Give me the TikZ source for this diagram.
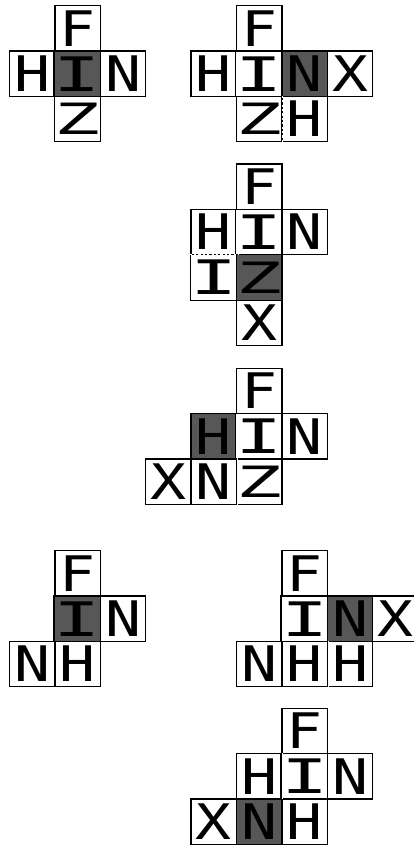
\documentclass[tikz,border=0pt]{standalone}
\usepackage{fontspec}
\setmonofont{DejaVu Sans Mono}
\newcommand{\cellletter}[1]{\scalebox{1.22}[1]{#1}}
\newcommand{\cellI}{\scalebox{1.6}[0.97]{I}}
\newcommand{\cellZ}{\scalebox{1.55}[0.88]{Z}}
\begin{document}
\begin{tikzpicture}[x=1pt,y=-1pt,
  cell/.style={draw=black,line width=1.3pt,fill=white,minimum size=45.4pt,inner sep=0pt,
    font=\ttfamily\fontsize{49}{49}\selectfont},
  shaded/.style={cell,fill=black!66},
  seam/.style={draw=white,line width=0.8pt,dash pattern=on 2.2pt off 2.2pt}]
\useasboundingbox (0,0) rectangle (414,846);
\clip (0,0) rectangle (414,846);
% column centres
\def\mA{32.2}\def\mB{77.6}\def\mC{123}\def\mD{168.4}\def\mE{213.8}
\def\mF{259.2}\def\mG{304.6}\def\mH{350}\def\mI{395.4}
% panel 1
\node[cell] (a1) at (\mB,28.3) {\cellletter{F}};
\node[cell] (a2) at (\mA,73.7) {\cellletter{H}};
\node[shaded] (a3) at (\mB,73.7) {\cellI};
\node[cell] (a4) at (\mC,73.7) {\cellletter{N}};
\node[cell] (a5) at (\mB,119.1) {\cellZ};
% panel 2
\node[cell] (b1) at (\mF,28.3) {\cellletter{F}};
\node[cell] (b2) at (\mE,73.7) {\cellletter{H}};
\node[cell] (b3) at (\mF,73.7) {\cellI};
\node[shaded] (b4) at (\mG,73.7) {\cellletter{N}};
\node[cell] (b5) at (\mH,73.7) {\cellletter{X}};
\node[cell] (b6) at (\mF,119.1) {\cellZ};
\node[cell] (b7) at (\mG,119.1) {\cellletter{H}};
\draw[seam] (b6.north east) -- (b6.south east);
% panel 3
\node[cell] (c1) at (\mF,186.7) {\cellletter{F}};
\node[cell] (c2) at (\mE,232.1) {\cellletter{H}};
\node[cell] (c3) at (\mF,232.1) {\cellI};
\node[cell] (c4) at (\mG,232.1) {\cellletter{N}};
\node[cell] (c5) at (\mE,277.5) {\cellI};
\node[shaded] (c6) at (\mF,277.5) {\cellZ};
\node[cell] (c7) at (\mF,322.9) {\cellletter{X}};
\draw[seam] (c5.north west) -- (c5.north east);
% panel 4
\node[cell] (d1) at (\mF,391) {\cellletter{F}};
\node[shaded] (d2) at (\mE,436.4) {\cellletter{H}};
\node[cell] (d3) at (\mF,436.4) {\cellI};
\node[cell] (d4) at (\mG,436.4) {\cellletter{N}};
\node[cell] (d5) at (\mD,481.8) {\cellletter{X}};
\node[cell] (d6) at (\mE,481.8) {\cellletter{N}};
\node[cell] (d7) at (\mF,481.8) {\cellZ};
\draw[seam] (d6.north east) -- (d6.south east);
% panel 5
\node[cell] (e1) at (\mB,573.3) {\cellletter{F}};
\node[shaded] (e2) at (\mB,618.7) {\cellI};
\node[cell] (e3) at (\mC,618.7) {\cellletter{N}};
\node[cell] (e4) at (\mA,664.1) {\cellletter{N}};
\node[cell] (e5) at (\mB,664.1) {\cellletter{H}};
% panel 6
\node[cell] (f1) at (\mG,573.3) {\cellletter{F}};
\node[cell] (f2) at (\mG,618.7) {\cellI};
\node[shaded] (f3) at (\mH,618.7) {\cellletter{N}};
\node[cell] (f4) at (\mI,618.7) {\cellletter{X}};
\node[cell] (f5) at (\mF,664.1) {\cellletter{N}};
\node[cell] (f6) at (\mG,664.1) {\cellletter{H}};
\node[cell] (f7) at (\mH,664.1) {\cellletter{H}};
\draw[seam] (f6.north east) -- (f6.south east);
% panel 7
\node[cell] (g1) at (\mG,731) {\cellletter{F}};
\node[cell] (g2) at (\mF,776.4) {\cellletter{H}};
\node[cell] (g3) at (\mG,776.4) {\cellI};
\node[cell] (g4) at (\mH,776.4) {\cellletter{N}};
\node[cell] (g5) at (\mE,821.8) {\cellletter{X}};
\node[shaded] (g6) at (\mF,821.8) {\cellletter{N}};
\node[cell] (g7) at (\mG,821.8) {\cellletter{H}};
\draw[seam] (g2.north east) -- (g2.south east);
\end{tikzpicture}
\end{document}
